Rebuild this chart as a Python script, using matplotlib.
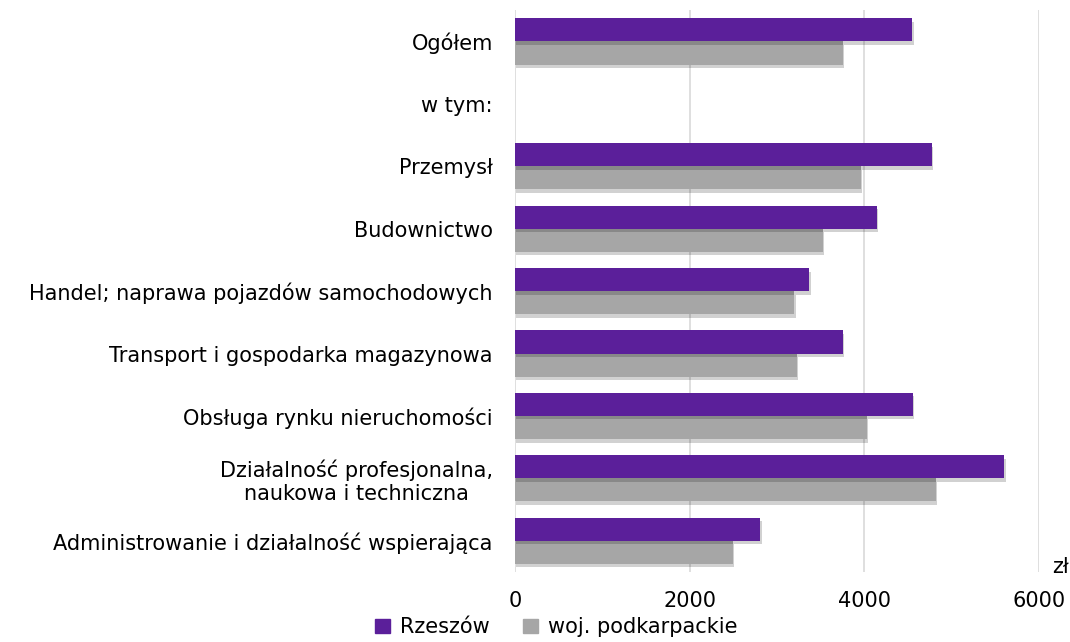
import matplotlib.pyplot as plt
import matplotlib.patheffects as pe
from matplotlib.patches import Patch
import numpy as np

plt.rcParams["font.family"] = ["DejaVu Sans"]

categories = [
    "Ogółem",
    "w tym:",
    "Przemysł",
    "Budownictwo",
    "Handel; naprawa pojazdów samochodowych",
    "Transport i gospodarka magazynowa",
    "Obsługa rynku nieruchomości",
    "Działalność profesjonalna,\nnaukowa i techniczna",
    "Administrowanie i działalność wspierająca",
]
rzeszow = [4550, np.nan, 4775, 4142, 3368, 3753, 4557, 5604, 2810]
podkarpackie = [3753, np.nan, 3962, 3522, 3200, 3225, 4029, 4817, 2492]
xticks = [0, 2000, 4000, 6000]

purple = "#5B1F9A"
gray = "#A6A6A6"
fs = 15

fig = plt.figure(figsize=(10.7, 6.42), dpi=100)
ax = fig.add_axes([0.4813, 0.109, 0.4897, 0.875])

y = np.arange(len(categories))
h = 0.37
shadow = [pe.SimplePatchShadow(offset=(1, -2.5), shadow_rgbFace="black", alpha=0.18), pe.Normal()]

ax.barh(y - h / 2, np.nan_to_num(rzeszow), height=h, color=purple,
        label="Rzeszów", path_effects=shadow, zorder=3)
ax.barh(y + h / 2, np.nan_to_num(podkarpackie), height=h, color=gray,
        label="woj. podkarpackie", path_effects=shadow, zorder=2)

ax.set_xlim(0, 6000)
ax.set_ylim(len(categories) - 0.5, -0.5)
ax.set_xticks(xticks)
ax.set_xticklabels([str(t) for t in xticks], fontsize=fs)
ax.set_yticks(y)
ax.set_yticklabels(categories, fontsize=fs, linespacing=1.2)
for lbl in ax.get_yticklabels():
    lbl.set_multialignment("center")
ax.tick_params(length=0, pad=16, axis="y")
ax.tick_params(length=0, pad=14, axis="x")
ax.xaxis.grid(True, color="#D9D9D9", linewidth=1.2, zorder=0)
ax.set_axisbelow(True)
for s in ax.spines.values():
    s.set_visible(False)

fig.text(0.983, 0.117, "zł", fontsize=fs, ha="left", va="center")

handles = [Patch(color=purple, label="Rzeszów"), Patch(color=gray, label="woj. podkarpackie")]
fig.legend(handles=handles, loc="lower center", bbox_to_anchor=(0.52, -0.022), ncol=2,
           frameon=False, fontsize=fs, handlelength=0.7, handleheight=0.7,
           handletextpad=0.5, columnspacing=1.6)

fig.savefig("out.png", dpi=100)
